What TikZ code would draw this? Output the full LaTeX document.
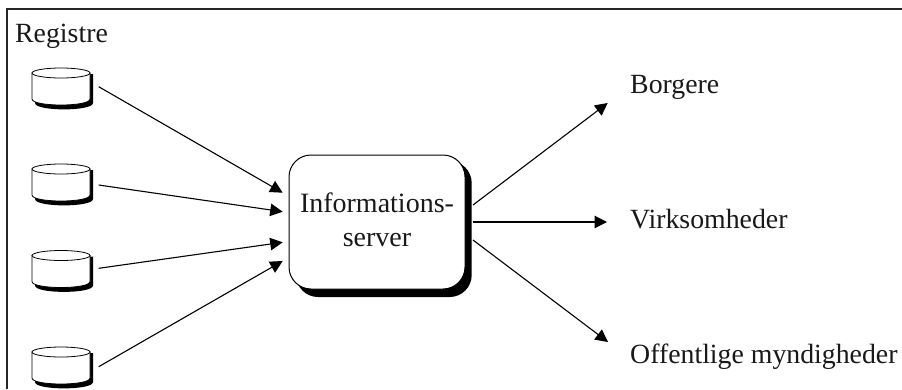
\documentclass[tikz,border=0pt]{standalone}
\usepackage{fontspec}
\setmainfont{Liberation Serif}
\usetikzlibrary{arrows.meta}
\tikzset{
  x=1pt,y=-1pt,
  lbl/.style={inner sep=0pt,anchor=base west,font=\fontsize{27.8}{33}\selectfont,text=black!90},
  conn/.style={line width=1.1pt,-{Triangle[length=12.5pt,width=12.5pt]}},
}
\newcommand{\regcyl}[3]{%
  % #1 name, #2 x left, #3 y top
  \coordinate (#1) at (#2+29,#3+19);
  \fill[black] (#2+3,#3+6) -- (#2+3,#3+35) .. controls (#2+3,#3+43.5) and (#2+61,#3+43.5) .. (#2+61,#3+35) -- (#2+61,#3+6) -- cycle;
  \draw[line width=0.8pt,fill=white] (#2,#3+5) -- (#2,#3+31) .. controls (#2,#3+39) and (#2+58,#3+39) .. (#2+58,#3+31) -- (#2+58,#3+5) -- cycle;
  \draw[line width=0.8pt,fill=white] (#2+29,#3+5) ellipse [x radius=29,y radius=5];
}
\begin{document}
\begin{tikzpicture}
\useasboundingbox (0,0) rectangle (902,389);
\fill[white] (0,0) rectangle (902,389);
\draw[line width=2pt,black!85] (6.5,389) -- (6.5,8.5) -- (902,8.5);
\node[lbl] (reg) at (15,42) {Registre};
\regcyl{c1}{32}{68}
\regcyl{c2}{32}{164}
\regcyl{c3}{32}{250.5}
\regcyl{c4}{32}{347}
\coordinate (c1e) at (98.7,86.7);
\coordinate (c2e) at (98.7,185);
\coordinate (c3e) at (98.7,268.3);
\coordinate (c4e) at (98.7,366.7);
\fill[black,rounded corners=22pt] (296,161) rectangle (471.7,297);
\draw[line width=1pt,fill=white,rounded corners=22pt] (289,155) rectangle (465,289);
\node[inner sep=0pt,align=center,font=\fontsize{28}{34}\selectfont,text=black!90] (srv) at (377,220) {Informations-\\server};
\coordinate (srvL1) at (282.7,192.7);
\coordinate (srvL2) at (282.7,211.7);
\coordinate (srvL3) at (282.7,242.3);
\coordinate (srvL4) at (282.7,261);
\coordinate (srvR1) at (473,205);
\coordinate (srvR2) at (473,222);
\coordinate (srvR3) at (473,240);
\node[lbl] (bor) at (630,93) {Borgere};
\node[lbl] (vir) at (630,228) {Virksomheder};
\node[lbl] (off) at (630,363) {Offentlige myndigheder};
\coordinate (borA) at (607.7,103);
\coordinate (virA) at (607,222);
\coordinate (offA) at (608,342);
\draw[conn] (c1e) -- (srvL1);
\draw[conn] (c2e) -- (srvL2);
\draw[conn] (c3e) -- (srvL3);
\draw[conn] (c4e) -- (srvL4);
\draw[conn] (srvR1) -- (borA);
\draw[conn] (srvR2) -- (virA);
\draw[conn] (srvR3) -- (offA);
\end{tikzpicture}
\end{document}
